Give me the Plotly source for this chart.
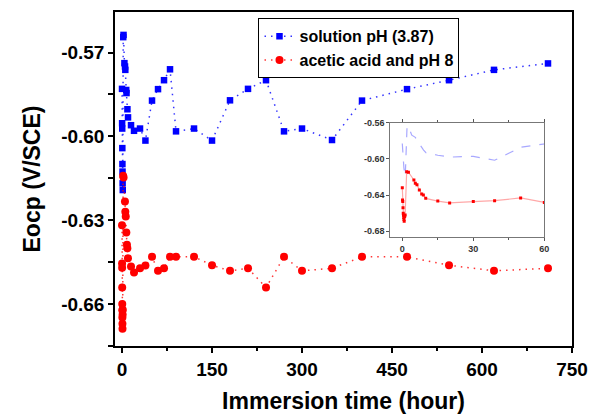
import plotly.graph_objects as go

# ---- data ----
t_blue = [0, 0.17, 0.33, 0.5, 0.67, 0.83, 1.0, 1.25, 2.0, 2.5, 4, 5, 5.5, 7, 7.5, 9, 10,
          15, 20, 30, 39, 50, 60, 70, 80, 90, 120, 150, 180, 210, 240, 270, 300, 350,
          400, 475, 545, 620, 710]
e_blue = [-0.583, -0.5953, -0.5972, -0.6042, -0.6099, -0.6126, -0.6168, -0.6192, -0.5645,
          -0.5637, -0.5738, -0.575, -0.5762, -0.5834, -0.5845, -0.5903, -0.5932,
          -0.596, -0.598, -0.5972, -0.6015, -0.5872, -0.5831, -0.5799, -0.576, -0.5982,
          -0.5972, -0.6015, -0.5871, -0.583, -0.5799, -0.5982, -0.5972, -0.6013,
          -0.5872, -0.5831, -0.5799, -0.5762, -0.5739]

t_red = [0, 0.1, 0.2, 0.3, 0.4, 0.5, 0.6, 0.7, 0.8, 1.0, 1.2, 1.85, 2.6, 4.9, 5.5, 6.2,
         7.2, 8.2, 8.9, 9.9, 15, 20, 30, 39, 50, 60, 70, 80, 90, 120, 150, 180, 210,
         240, 270, 300, 350, 400, 475, 545, 620, 710]
e_red = [-0.6318, -0.6455, -0.647, -0.6541, -0.660, -0.6622, -0.6648, -0.667, -0.6688,
         -0.6637, -0.662, -0.6141, -0.6147, -0.6233, -0.627, -0.6287,
         -0.6344, -0.6388, -0.640, -0.6436, -0.6466, -0.6487, -0.6472, -0.6462, -0.6431,
         -0.6481, -0.6472, -0.6431, -0.6431, -0.6431, -0.6461, -0.6481, -0.6472,
         -0.6541, -0.6431, -0.6481, -0.6472, -0.6431, -0.6431, -0.6461, -0.6481, -0.6472]

name_blue = "solution pH (3.87)"
name_red = "acetic acid and pH 8"

x_ticks = [0, 150, 300, 450, 600, 750]
y_ticks = [-0.57, -0.60, -0.63, -0.66]
inset_x_ticks = [0, 30, 60]
inset_y_ticks = [-0.56, -0.60, -0.64, -0.68]

FONT = "Liberation Sans, Arial, sans-serif"

fig = go.Figure()

# main traces
fig.add_trace(go.Scatter(
    x=t_blue, y=e_blue, name=name_blue, mode="lines+markers",
    line=dict(color="rgba(0,0,255,0.8)", width=1.5, dash="1.5px,5px"),
    marker=dict(symbol="square", size=6.5, color="#0000ff"),
    xaxis="x", yaxis="y"))
fig.add_trace(go.Scatter(
    x=t_red, y=e_red, name=name_red, mode="lines+markers",
    line=dict(color="rgba(255,0,0,0.8)", width=1.5, dash="1.5px,5px"),
    marker=dict(symbol="circle", size=8, color="#ff0000"),
    xaxis="x", yaxis="y"))

# inset traces
fig.add_trace(go.Scatter(
    x=t_blue, y=e_blue, mode="lines", showlegend=False,
    line=dict(color="rgba(110,110,255,0.6)", width=1.2, dash="dash"),
    xaxis="x2", yaxis="y2"))
fig.add_trace(go.Scatter(
    x=t_red, y=e_red, mode="lines+markers", showlegend=False,
    line=dict(color="rgba(255,110,110,0.6)", width=1.2),
    marker=dict(symbol="square", size=3, color="#ff0000"),
    xaxis="x2", yaxis="y2"))

tickfont = dict(family=FONT, size=19, color="black", weight="bold")
titlefont = dict(family=FONT, size=23, color="black", weight="bold")
inset_font = dict(family=FONT, size=9, color="#333333", weight="bold")

fig.update_layout(
    width=592, height=414,
    margin=dict(l=115, r=20, t=12, b=68),
    paper_bgcolor="white", plot_bgcolor="white",
    showlegend=True,
    legend=dict(x=0.314, y=0.981, xanchor="left", yanchor="top",
                bgcolor="white", bordercolor="black", borderwidth=1,
                font=dict(family=FONT, size=16, color="black", weight="bold"),
                tracegroupgap=0, itemwidth=30),
    xaxis=dict(
        domain=[0, 1], range=[-11.7, 750], anchor="y", automargin=False,
        tickmode="array", tickvals=x_ticks, ticktext=[str(v) for v in x_ticks],
        ticks="outside", ticklen=5, tickwidth=1.5, tickcolor="black",
        minor=dict(dtick=75, tick0=0, ticks="outside", ticklen=3, tickcolor="black"),
        showline=True, linecolor="black", linewidth=1.5, mirror=True,
        showgrid=False, zeroline=False, tickfont=tickfont,
        title=dict(text="Immersion time (hour)", font=titlefont, standoff=18)),
    yaxis=dict(
        domain=[0, 1], range=[-0.675, -0.5555], anchor="x", automargin=False,
        tickmode="array", tickvals=y_ticks, ticktext=["%.2f" % v for v in y_ticks],
        ticks="outside", ticklen=5, tickwidth=1.5, tickcolor="black",
        minor=dict(dtick=0.015, tick0=-0.57, ticks="outside", ticklen=5, tickcolor="black"),
        showline=True, linecolor="black", linewidth=1.5, mirror=True,
        showgrid=False, zeroline=False, tickfont=tickfont,
        title=dict(text="Eocp (V/SCE)", font=titlefont, standoff=14)),
    xaxis2=dict(
        domain=[0.6024, 0.9394], range=[-5.07, 60], anchor="y2", automargin=False,
        tickmode="array", tickvals=inset_x_ticks, ticktext=[str(v) for v in inset_x_ticks],
        ticks="outside", ticklen=3, tickcolor="#555555",
        minor=dict(dtick=15, tick0=0, ticks="outside", ticklen=2, tickcolor="#555555"),
        showline=True, linecolor="#777777", linewidth=1, mirror="ticks",
        showgrid=False, zeroline=False, tickfont=inset_font),
    yaxis2=dict(
        domain=[0.3272, 0.6686], range=[-0.686, -0.56], anchor="x2", automargin=False,
        tickmode="array", tickvals=inset_y_ticks, ticktext=["%.2f" % v for v in inset_y_ticks],
        ticks="outside", ticklen=3, tickcolor="#555555",
        showline=True, linecolor="#777777", linewidth=1, mirror=True,
        showgrid=False, zeroline=False, tickfont=inset_font),
)

fig.write_html("out.html")
